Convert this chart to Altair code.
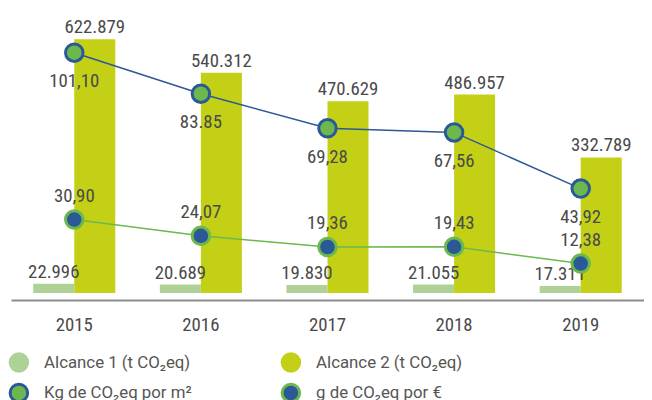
import altair as alt
import pandas as pd

years = ["2015", "2016", "2017", "2018", "2019"]
alcance1 = [22996, 20689, 19830, 21055, 17311]
alcance2 = [622879, 540312, 470629, 486957, 332789]
kg_m2 = [101.10, 83.85, 69.28, 67.56, 43.92]
g_eur = [30.90, 24.07, 19.36, 19.43, 12.38]

alcance1_labels = ["22.996", "20.689", "19.830", "21.055", "17.311"]
alcance2_labels = ["622.879", "540.312", "470.629", "486.957", "332.789"]
kg_labels = ["101,10", "83.85", "69,28", "67,56", "43,92"]
g_labels = ["30,90", "24,07", "19,36", "19,43", "12,38"]

series = ["Alcance 1 (t CO₂eq)", "Alcance 2 (t CO₂eq)", "Kg de CO₂eq por m²", "g de CO₂eq por €"]
fills = ["#aed296", "#c3d016", "#6cb84f", "#2b5896"]
strokes = ["#aed296", "#c3d016", "#2b5896", "#6cb84f"]

bar_rows = []
for i, y in enumerate(years):
    bar_rows.append({"year": y, "serie": series[0], "value": alcance1[i], "label": alcance1_labels[i]})
    bar_rows.append({"year": y, "serie": series[1], "value": alcance2[i], "label": alcance2_labels[i]})
bar_df = pd.DataFrame(bar_rows)

line_rows = []
for i, y in enumerate(years):
    line_rows.append({"year": y, "serie": series[2], "value": kg_m2[i], "label": kg_labels[i]})
    line_rows.append({"year": y, "serie": series[3], "value": g_eur[i], "label": g_labels[i]})
line_df = pd.DataFrame(line_rows)

NUM_FONT = "Roboto Condensed, Noto Sans Condensed, DejaVu Sans Condensed, sans-serif"
TXT = "#4a4a4a"
FS = 19

leg = alt.Legend(
    orient="none", legendX=-2.5, legendY=333.5, columns=2, direction="horizontal",
    symbolType="circle", symbolSize=314, symbolStrokeWidth=3, symbolOpacity=1,
    labelFont="Roboto", labelFontSize=17, labelColor="#555555", labelOffset=15,
    labelLimit=400, columnPadding=84, rowPadding=0, title=None, padding=0,
)
fill_scale = alt.Scale(domain=series, range=fills)
stroke_scale = alt.Scale(domain=series, range=strokes)

x_enc = alt.X(
    "year:N", sort=years, title=None,
    scale=alt.Scale(paddingInner=0.352, paddingOuter=0.176),
    axis=alt.Axis(labelAngle=0, labelFont=NUM_FONT, labelFontSize=FS, labelColor=TXT,
                  ticks=False, tickSize=0, labelPadding=16, domainColor="#8c8c8c",
                  domainWidth=2, offset=7, grid=False),
)

y_bar = alt.Y("value:Q", scale=alt.Scale(domain=[0, 665000], nice=False), axis=None)
y_line = alt.Y("value:Q", scale=alt.Scale(domain=[0, 114], nice=False), axis=None)
xoff = alt.XOffset("serie:N", sort=series[:2], scale=alt.Scale(paddingInner=0, paddingOuter=0))

bars = alt.Chart(bar_df).mark_bar().encode(
    x=x_enc, xOffset=xoff, y=y_bar,
    fill=alt.Fill("serie:N", scale=fill_scale, legend=leg),
)
bar_text = alt.Chart(bar_df).mark_text(
    font=NUM_FONT, fontSize=FS, color=TXT, baseline="alphabetic", dy=-6
).encode(x=x_enc, xOffset=xoff, y=y_bar, text="label:N")

lines = alt.Chart(line_df).mark_line(strokeWidth=1.5).encode(
    x=x_enc, y=y_line,
    stroke=alt.Stroke("serie:N", scale=stroke_scale, legend=leg),
)
points = alt.Chart(line_df).mark_circle(size=314, strokeWidth=3, opacity=1).encode(
    x=x_enc, y=y_line,
    fill=alt.Fill("serie:N", scale=fill_scale, legend=leg),
    stroke=alt.Stroke("serie:N", scale=stroke_scale, legend=leg),
)
kg_text = alt.Chart(line_df).transform_filter(
    alt.datum.serie == series[2]
).mark_text(font=NUM_FONT, fontSize=FS, color=TXT, baseline="top", dy=20).encode(
    x=x_enc, y=y_line, text="label:N"
)
g_text = alt.Chart(line_df).transform_filter(
    alt.datum.serie == series[3]
).mark_text(font=NUM_FONT, fontSize=FS, color=TXT, baseline="alphabetic", dy=-18).encode(
    x=x_enc, y=y_line, text="label:N"
)

chart = alt.layer(
    alt.layer(bars, bar_text),
    alt.layer(lines, points, kg_text, g_text),
).resolve_scale(y="independent").properties(
    width=640, height=274,
    padding={"left": 3, "top": 12, "right": 0, "bottom": 106},
    autosize=alt.AutoSizeParams(type="none"),
).configure_view(stroke=None)

chart.save("out.html", embed_options={"renderer": "svg", "actions": False})
